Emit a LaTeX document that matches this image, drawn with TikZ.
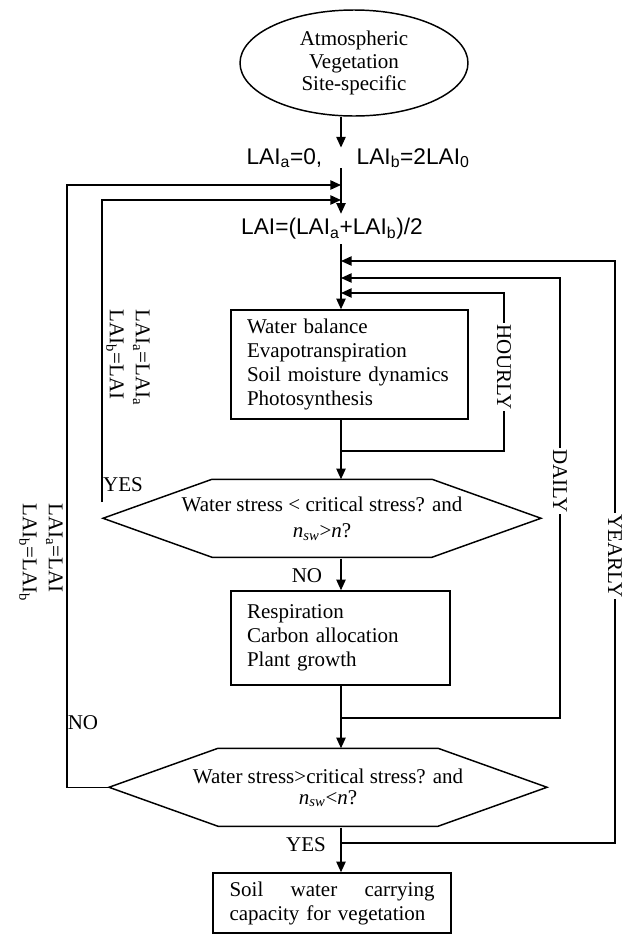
\documentclass[tikz,border=0pt]{standalone}
\usepackage{fontspec}
\setmainfont{Liberation Serif}
\newfontfamily\laifont{Liberation Sans}
\usetikzlibrary{arrows.meta,shapes.geometric}

\begin{document}
\begin{tikzpicture}[x=0.75pt, y=-0.75pt, line width=1.1pt, >={Triangle[length=8pt,width=7pt]}]
\tikzstyle{every node}=[inner sep=0pt, font=\fontsize{15.75}{18}\selectfont]
\tikzstyle{box}=[draw, inner xsep=12pt, align=left]
\tikzstyle{hexa}=[align=center, minimum height=58.5pt]
\tikzstyle{lai}=[font=\laifont\fontsize{17}{20}\selectfont]
\tikzstyle{lbl}=[fill=white, inner sep=1pt, rotate=-90]
\tikzstyle{upd}=[rotate=-90, anchor=west, align=left, font=\fontsize{15.75}{19.5}\selectfont]
\useasboundingbox (0,0) rectangle (628,936);
\coordinate (axis) at (341,0);
% nodes
\node[draw, ellipse, minimum width=171pt, minimum height=79.5pt, align=center, font=\fontsize{15.75}{17}\selectfont] (src) at (354,63) {Atmospheric\\Vegetation\\Site-specific};
\node[lai, anchor=east] (ini) at (323,158) {LAI\textsubscript{a}=0,};
\node[lai, anchor=west] (ini2) at (356,158) {LAI\textsubscript{b}=2LAI\textsubscript{0}};
\node[lai, inner ysep=3pt] (mean) at (332,229) {LAI=(LAI\textsubscript{a}+LAI\textsubscript{b})/2};
\node[box, text width=153.75pt, minimum height=81.75pt] (b1) at (349.5,364.5) {Water balance\\Evapotranspiration\\Soil moisture dynamics\\Photosynthesis};
\node[hexa] (d1) at (322,519) {Water stress < critical stress? and\\[1.5pt]\textit{n}\textsubscript{\textit{sw}}>\textit{n}?};
\node[box, text width=140.25pt, minimum height=70.5pt] (b2) at (340.5,638) {Respiration\\Carbon allocation\\Plant growth};
\node[hexa] (d2) at (328,788) {Water stress>critical stress? and\\[-2.5pt]\textit{n}\textsubscript{\textit{sw}}<\textit{n}?};
\node[box, text width=153.75pt, inner xsep=12.4pt, minimum height=45pt] (b3) at (332,903) {Soil\hfill water\hfill carrying\\capacity for vegetation};
\draw (d1.north) ++(-110,0) -- ++(220,0) -- ++(109,39) -- ++(-109,39) -- ++(-220,0) -- ++(-109,-39) -- cycle;
\draw (d2.north) ++(-110,0) -- ++(220,0) -- ++(109,39) -- ++(-109,39) -- ++(-220,0) -- ++(-109,-39) coordinate (d2tip) -- cycle;
\node (yes1) at (123,485) {YES};
\node (no1) at (307,576) {NO};
\node (no2) at (83,723) {NO};
\node (yes2) at (306,845) {YES};
\node[upd] (upd1) at (128,309) {LAI\textsubscript{a}=LAI\textsubscript{a}\\LAI\textsubscript{b}=LAI};
\node[upd] (upd2) at (41,503) {LAI\textsubscript{a}=LAI\\LAI\textsubscript{b}=LAI\textsubscript{b}};
% joints on the main line
\coordinate (j1) at (341,185);
\coordinate (j2) at (341,200);
\coordinate (j3) at (341,261);
\coordinate (j4) at (341,278);
\coordinate (j5) at (341,293);
\coordinate (h1) at (341,451);
\coordinate (dc) at (341,718);
\coordinate (yc) at (341,843);
\coordinate (yes0) at (102,502);
\draw[->] (src.south -| axis) -- (ini.north -| axis);
\draw[->] (ini.south -| axis) -- (mean.north -| axis);
\foreach \i/\j in {mean/b1,b1/d1,d1/b2,b2/d2,d2/b3}{\draw[->] (\i.south -| axis) -- (\j.north -| axis);}
\draw[->] (yes0) |- (j2);
\draw[->] (d2tip) -- ++(-42,0) |- (j1);
\draw[->] (h1) -- ++(163,0) |- (j5);
\draw[->] (dc) -- ++(219,0) |- (j4);
\draw[->] (yc) -- ++(274,0) |- (j3);
\node[lbl] (hr) at (504,367) {HOURLY};
\node[lbl] (dy) at (560,481) {DAILY};
\node[lbl] (yr) at (615,556) {YEARLY};
\end{tikzpicture}
\end{document}
